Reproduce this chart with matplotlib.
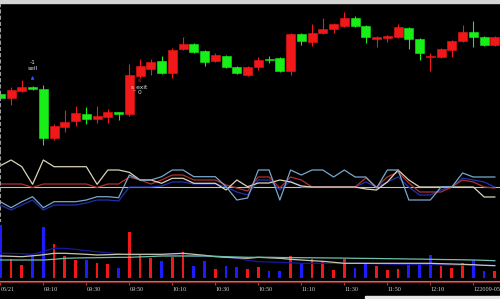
import matplotlib
matplotlib.use("Agg")
import matplotlib.pyplot as plt
import matplotlib.transforms as mtransforms
from matplotlib.patches import Rectangle

# 5-minute candles (price units), red = up, green = down
opens = [66, 62, 69, 73, 71, 22, 33, 39, 46, 41, 43, 48, 46, 84, 91, 99, 87, 111, 116, 109, 99, 104, 93, 85, 93,
         101, 102, 89, 126, 118, 127, 131, 134, 142, 134, 121, 122, 123, 132, 121, 103, 103, 110, 119, 128, 123, 115]
closes = [62, 70, 73, 71, 22, 34, 38, 47, 41, 44, 48, 46.5, 85, 94, 98, 87, 110, 116, 108, 98, 105, 93, 87, 93, 100,
          100.5, 89, 126, 119, 127, 131, 136, 142, 134, 123, 123, 124, 133, 121, 107, 103, 111, 119, 128, 123, 115, 123]
highs = [68, 73, 80, 74, 75, 36, 50, 54, 53, 54, 51, 48, 96, 101, 101, 104, 112, 123, 117, 110, 107, 105, 94, 94,
         103, 104, 103, 127, 127, 136, 142, 137, 148, 144, 135, 124, 125, 136, 133, 122, 107, 112, 120, 135, 139, 124, 124]
lows = [61, 55, 68, 70, 15, 20, 28, 34, 36, 37, 37, 40, 44, 82, 85, 86, 82, 110, 107, 94, 98, 92, 86, 84, 90,
        97, 88, 85, 115, 114, 126, 127, 133, 133, 117, 113, 118, 122, 111, 100, 89, 102, 103, 118, 113, 114, 114]

# indicator panel (4 lines)
ind_a = [21.3, 27, 20.3, 2.7, 27, 20.3, 20.3, 20.3, 20.3, 2.7, 17, 17, 14.7, 7, 7, 3.7, 8.7, 8.7, 3.7, 3.7, 3.7, -3,
         7, 0.3, 4, 4, 7, 5, 1, 0, 0, 0, 0, 0, -2, -3, 5, 17, 7, 0, 0, 0, 0, 0, 0, -10, -10]
ind_b = [-14.7, -20.7, -14.7, -9.7, -20.7, -14.7, -14.7, -14.7, -13, -9.7, -9.7, -10.7, 12, 7, 7, 10.3, 17, 17, 10.3,
         10.3, 10.3, 0.3, -13, -11, 17, 17, -13, 17, 12, 17, 17, 10, 17, 10, 10, -1, 17, 17, -13, -13, -13, 0, 0, 14,
         10, 10, 10]
ind_c = [3, 3, 3, -0.5, 3, 3, 3, 3, 3, -0.5, 3, 3, 10, 7, 3, 7, 12, 12, 7, 7, 7, 2, -1, -4, 10, 10, -1, 10, 7, 0, 0,
         0, 0, 0, 9, 0, 10, 15, 4, -5, -5, -5, 0, 7, 5, 0, -1]
ind_d = [-18, -23, -18, -13, -23, -18, -18, -18, -16, -13, -13, -14, 0, 0, 0, 1, 5, 5, 3, 3, 3, 0, -5, -8, 7, 7, -3,
         6, 0, 0, 0, 0, 0, 0, 5, 0, 5, 10, 0, -8, -8, -3, 0, 9, 7, 5, 0]

# volume and its averages
volume = [53, 19, 13, 22, 51, 34, 22, 18, 18, 15, 14, 10, 46, 24, 20, 17, 21, 26, 12, 17, 9, 12, 11, 9, 11, 7, 7,
          22, 15, 19, 17, 8, 19, 10, 14, 12, 8, 9, 13, 14, 23, 12, 10, 15, 18, 7, 7]
vol_ma1 = [25, 25, 24.5, 24, 27, 30, 30, 29, 27.6, 26.5, 25.6, 24.5, 23.3, 23.6, 24, 23.6, 23.3, 22.8, 22.3, 22.3,
           22.3, 21, 20, 18, 16.6, 16.3, 16, 15.5, 15, 15, 15, 15, 15, 15, 15, 14.6, 14.3, 14, 14, 14, 14, 13.6,
           13.3, 13.3, 13, 13, 13]
vol_ma2 = [22.3, 22, 21.6, 22.5, 23.5, 25, 25, 24.5, 24, 23.3, 23.6, 24, 24, 24, 24, 24, 24.5, 25, 24, 23, 21.6, 21,
           20.5, 20, 21, 20.5, 20, 19, 18.3, 17.6, 17, 16, 15, 15, 15, 15, 15, 15, 15, 15, 15, 14.6, 14.3, 14, 13.6,
           13, 12.6]
vol_ma3 = [18.3, 18.3, 18.3, 18.3, 18.3, 19, 20, 20.3, 20.5, 20.6, 20.8, 21, 21, 21.4, 21.8, 22.3, 22.3, 22.3, 22.3,
           22.3, 22, 21.6, 21.3, 21, 21, 21, 20.8, 20.7, 20.6, 20.5, 20.4, 20.3, 20.2, 20, 19.9, 19.8, 19.6, 19.5,
           19.3, 19.2, 19, 18.8, 18.7, 18.5, 18.3, 18, 17.6]

tick_pos = [0, 4, 8, 12, 16, 20, 24, 28, 32, 36, 40, 44]
tick_labels = ["05/21", "09:10", "09:30", "09:50", "10:10", "10:30", "10:50", "11:10", "11:30", "11:50",
               "12:10", "122009-05"]

n = len(opens)
x = list(range(n))
RED, GREEN, BLUE = "#f01818", "#18ee18", "#1c1cff"

fig = plt.figure(figsize=(5, 2.99), dpi=100, facecolor="black")


def panel(top_px, bot_px):
    ax = fig.add_axes([0, 1 - bot_px / 299, 1, (bot_px - top_px) / 299])
    ax.set_facecolor("black")
    ax.set_xlim(-0.03, 46.48)
    ax.set_xticks([])
    ax.set_yticks([])
    for s in ax.spines.values():
        s.set_visible(False)
    return ax


ax_k = panel(4, 150)
ax_i = panel(150, 222)
ax_v = panel(222, 280.5)
ax_t = panel(281.5, 299)

# candles
up = [c >= o for o, c in zip(opens, closes)]
cols = [RED if u else GREEN for u in up]
ax_k.vlines(x, lows, highs, colors=cols, linewidth=0.8)
bottoms = [min(o, c) for o, c in zip(opens, closes)]
heights = [max(abs(c - o), 0.6) for o, c in zip(opens, closes)]
ax_k.bar(x, heights, bottom=bottoms, width=0.84, color=cols, edgecolor=cols, linewidth=0.4)
ax_k.set_ylim(10, 156)

# signal marks
ax_k.annotate("", xy=(3, 87), xytext=(3, 78),
              arrowprops=dict(arrowstyle="-|>", color="#3050ff", lw=0.8, mutation_scale=4))
ax_k.text(3, 91, "sell", color="#e0e0e0", fontsize=4.3, ha="center", va="center")
ax_k.text(3, 97, "-1", color="#e0e0e0", fontsize=4.3, ha="center", va="center")
ax_k.text(12.9, 80, "s", color=RED, fontsize=4.3, ha="center", va="center")
ax_k.text(12.9, 73, "s_exit", color="#e0e0e0", fontsize=4.3, ha="center", va="center")
ax_k.text(12.9, 67, "0", color="#e0e0e0", fontsize=4.3, ha="center", va="center")

# dotted left scale
for ax in (ax_k, ax_i):
    ax.spines["left"].set_visible(True)
    ax.spines["left"].set_color("#9a9a9a")
    ax.spines["left"].set_linestyle((0, (1, 2)))
    ax.spines["left"].set_linewidth(1.5)

# indicator
ax_i.axhline(0, color="#c0c0c0", linewidth=0.8)
ax_i.plot(x, ind_d, color="#2030b0", linewidth=0.9)
ax_i.plot(x, ind_c, color="#b03030", linewidth=0.9)
ax_i.plot(x, ind_a, color="#d8d4b8", linewidth=0.9)
ax_i.plot(x, ind_b, color="#78a8cc", linewidth=0.9)
ax_i.set_ylim(-35, 37)

# volume
vcols = [RED if c > o else BLUE for o, c in zip(opens, closes)]
ax_v.bar(x, volume, width=0.26, color=vcols)
ax_v.plot(x, vol_ma1, color="#1818a0", linewidth=0.9)
ax_v.plot(x, vol_ma2, color="#c8c8b0", linewidth=0.9)
ax_v.plot(x, vol_ma3, color="#70c0a8", linewidth=0.9)
ax_v.set_ylim(-2.2, 56.3)
ax_v.spines["bottom"].set_visible(True)
ax_v.spines["bottom"].set_color("#8a8a8a")

# time axis
ax_t.set_ylim(0, 1)
ax_t.spines["top"].set_visible(True)
ax_t.spines["top"].set_color("#8a2a2a")
ax_t.set_xticks(tick_pos)
ax_t.tick_params(axis="x", top=True, bottom=False, labelbottom=False, direction="in",
                 length=2, width=0.8, color="#c03030")
trans = mtransforms.blended_transform_factory(ax_t.transData, ax_t.transAxes)
for p, lab in zip(tick_pos, tick_labels):
    ax_t.text(p, 0.57, lab, transform=trans, color="#d0d0d0", fontsize=4.4,
              family="Liberation Serif", ha="left", va="center")

# window frame bits
fig.patches.append(Rectangle((0, 1 - 3 / 299), 1, 3 / 299, transform=fig.transFigure,
                             color="#d4d4d4", zorder=5))
fig.patches.append(Rectangle((365 / 500, 0), 135 / 500, 3 / 299, transform=fig.transFigure,
                             color="#e6e6e6", zorder=5))

fig.savefig("out.png", dpi=100, facecolor="black")
